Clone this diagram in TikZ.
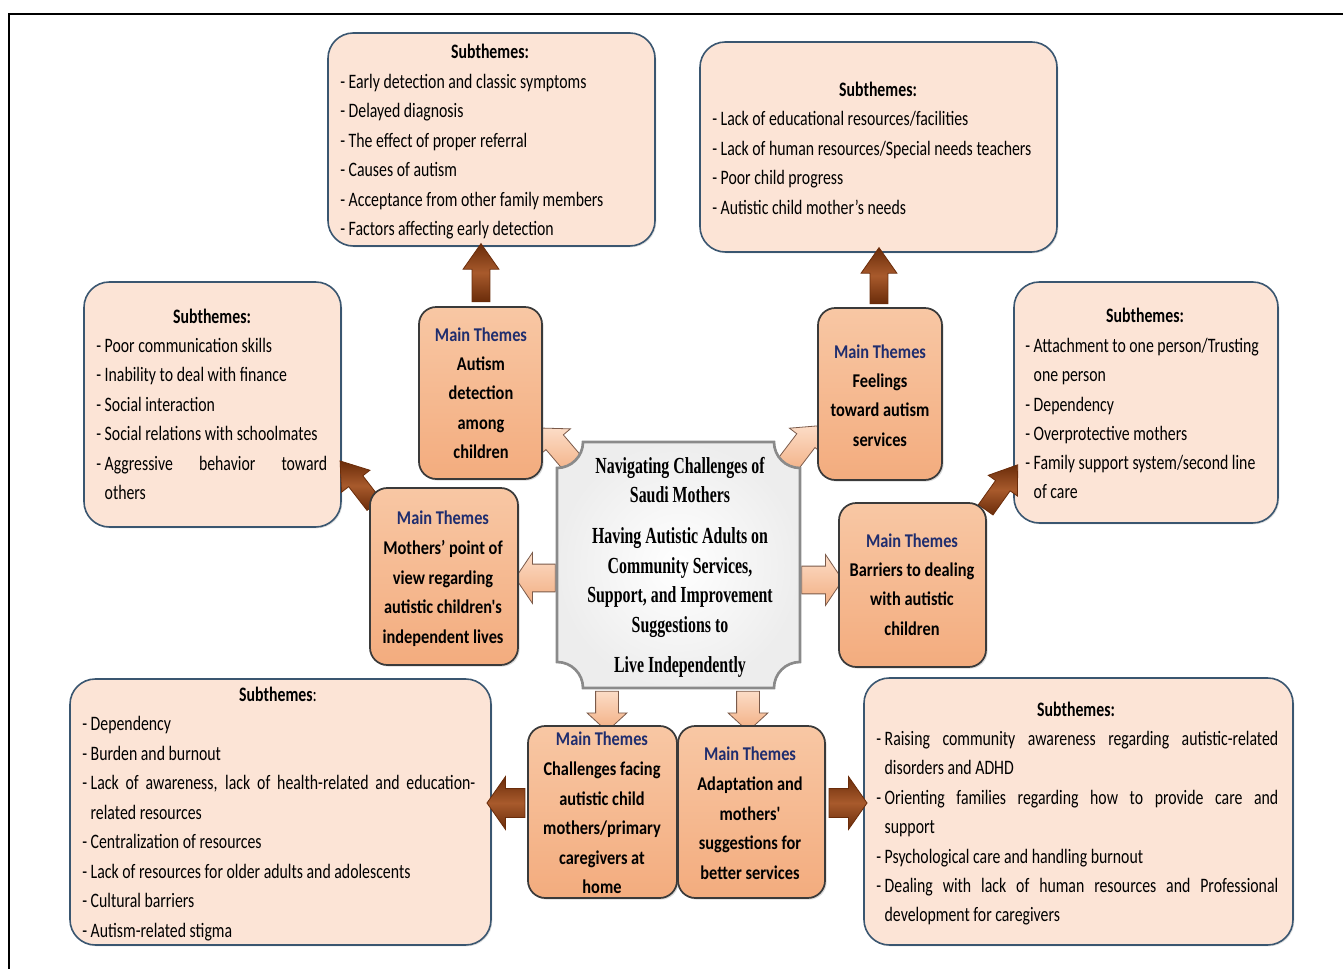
\documentclass[tikz,border=0pt]{standalone}
\usepackage{fontspec}
\usetikzlibrary{shapes.arrows,fit,shadows}
\newfontfamily\stfont[FakeStretch=0.77]{Carlito}
\newfontfamily\mtfont[FakeStretch=0.84]{Carlito}
\newfontfamily\ctfont[FakeStretch=0.69]{Liberation Serif}
\definecolor{subfill}{HTML}{FCE4D6}
\definecolor{subline}{HTML}{3A5670}
\definecolor{maintop}{HTML}{F8C7A4}
\definecolor{mainbot}{HTML}{F3AC7E}
\definecolor{mainline}{HTML}{3A3A3A}
\definecolor{navy}{HTML}{1F2D6E}
\definecolor{brownd}{HTML}{6A2C0A}
\definecolor{brownl}{HTML}{A85A2C}
\definecolor{peachl}{HTML}{FCDCC6}
\definecolor{peachd}{HTML}{F2AE82}
\definecolor{arrline}{HTML}{7A5A4A}
\definecolor{plaqueline}{HTML}{8A8A8A}
\begin{document}
\begin{tikzpicture}[x=0.75pt,y=-0.75pt,
  subbox/.style={draw=subline,line width=1.2pt,fill=subfill,rounded corners=19pt,inner sep=0pt,
    drop shadow={opacity=0.25,shadow xshift=1pt,shadow yshift=-1pt}},
  mainbox/.style={draw=mainline,line width=1.3pt,top color=maintop,bottom color=mainbot,rounded corners=13pt,inner sep=0pt,
    drop shadow={opacity=0.3,shadow xshift=1.2pt,shadow yshift=-1.2pt}},
  stxt/.style={font={\stfont\fontsize{15.4pt}{22pt}\selectfont},inner sep=0pt,anchor=base west},
  sthead/.style={font={\stfont\bfseries\fontsize{15.4pt}{22pt}\selectfont},inner sep=0pt,anchor=base},
  mttxt/.style={font={\mtfont\bfseries\fontsize{14.6pt}{22pt}\selectfont},inner sep=0pt,anchor=base},
  mthead/.style={mttxt,text=navy},
  cttxt/.style={font={\ctfont\bfseries\fontsize{17.25pt}{22pt}\selectfont},inner sep=0pt,anchor=base},
  barrow/.style={single arrow,draw=brownd,line width=0.6pt,shading=axis,top color=brownd,bottom color=brownd,middle color=brownl,
    inner xsep=0pt,single arrow head indent=0pt},
  barrowS/.style={barrow,inner ysep=6.4pt,single arrow head extend=6.75pt,single arrow tip angle=70},
  barrowL/.style={barrow,inner ysep=10.5pt,single arrow head extend=9pt,single arrow tip angle=110},
  larrow/.style={single arrow,draw=arrline,line width=0.6pt,top color=peachl,bottom color=peachd,
    inner xsep=0pt,single arrow head indent=0pt},
  larrowD/.style={larrow,inner ysep=8.25pt,single arrow head extend=6.9pt,single arrow tip angle=96},
  larrowH/.style={larrow,inner ysep=10.1pt,single arrow head extend=8.6pt,single arrow tip angle=112},
  larrowV/.style={larrow,inner ysep=8.25pt,single arrow head extend=6.4pt,single arrow tip angle=95}
]
\useasboundingbox (0,0) rectangle (1343,969);
\draw[line width=1.6pt] (1343,14) -- (9,14) -- (9,969);

% subtheme boxes
\node[subbox,fit={(328,33)(655,246)}] (s1) {};
\node[subbox,fit={(700,42)(1057,252)}] (s2) {};
\node[subbox,fit={(84,282)(341,527)}] (s3) {};
\node[subbox,fit={(1014,282)(1278,523)}] (s4) {};
\node[subbox,fit={(70,679)(491,945)}] (s5) {};
\node[subbox,fit={(864,678)(1293,945)}] (s6) {};

% arrows from main themes to subthemes
\node[barrowS,minimum height=43.5pt,rotate=90] (aA) at (481,279) {};
\node[barrowS,minimum height=42pt,rotate=90] (aB) at (879,282) {};
\node[barrowS,minimum height=41.7pt,rotate=127.7] (aC) at (361,488) {};
\node[barrowS,minimum height=41.4pt,rotate=54.6] (aD) at (998,492.5) {};
\node[barrowL,minimum height=28.5pt,rotate=180] (aE) at (511,803) {};
\node[barrowL,minimum height=28.5pt,rotate=0] (aF) at (843,803) {};

% arrows from centre to main themes
\node[larrowD,minimum height=39.4pt,rotate=130.4] (lA) at (563,452) {};
\node[larrowD,minimum height=39.6pt,rotate=52.7] (lB) at (798,451) {};
\node[larrowH,minimum height=30pt,rotate=180] (lC) at (540,578) {};
\node[larrowH,minimum height=30.75pt,rotate=0] (lD) at (817.5,580) {};
\node[larrowV,minimum height=30pt,rotate=-90] (lE) at (607,706) {};
\node[larrowV,minimum height=30pt,rotate=-90] (lF) at (748,706) {};

% main theme boxes
\node[mainbox,fit={(419,307)(542,479)}] (mA) {};
\node[mainbox,fit={(818,308)(942,480)}] (mB) {};
\node[mainbox,fit={(370,488)(518,665)}] (mC) {};
\node[mainbox,fit={(839,503)(986,667)}] (mD) {};
\node[mainbox,fit={(528,726)(677,898)}] (mE) {};
\node[mainbox,fit={(678,726)(825,898)}] (mF) {};

% centre plaque
\path[draw=plaqueline,line width=2pt,inner color=white,outer color=black!7]
  (583,442) -- (774,442) .. controls (774,456.4) and (785.6,468) .. (800,468)
  -- (800,662) .. controls (785.6,662) and (774,673.6) .. (774,688)
  -- (583,688) .. controls (583,673.6) and (571.4,662) .. (557,662)
  -- (557,468) .. controls (571.4,468) and (583,456.4) .. (583,442) -- cycle;
\node[fit={(557,442)(800,688)},inner sep=0pt] (ctr) {};

% centre text
\foreach \t [count=\i from 0] in {{Navigating Challenges of},{Saudi Mothers}}
  \node[cttxt] (ct-a\i) at (680,473.5+29*\i) {\t};
\foreach \t [count=\i from 0] in {{Having Autistic Adults on},{Community Services,},{Support, and Improvement},{Suggestions to}}
  \node[cttxt] (ct-b\i) at (680,543.5+29.7*\i) {\t};
\node[cttxt] (ct-c) at (680,672.5) {Live Independently};

% main theme texts
\node[mthead] (tA) at (481,341.5) {Main Themes};
\foreach \t [count=\i from 0] in {Autism,detection,among,children}
  \node[mttxt] (tA\i) at (481,370.5+29.4*\i) {\t};
\node[mthead] (tB) at (880,358.5) {Main Themes};
\foreach \t [count=\i from 0] in {Feelings,{toward autism},services}
  \node[mttxt] (tB\i) at (880,387.5+29.5*\i) {\t};
\node[mthead] (tC) at (443,524.5) {Main Themes};
\foreach \t [count=\i from 0] in {{Mothers’ point of},{view regarding},{autistic children's},{independent lives}}
  \node[mttxt] (tC\i) at (443,554.5+29.6*\i) {\t};
\node[mthead] (tD) at (912,547.5) {Main Themes};
\foreach \t [count=\i from 0] in {{Barriers to dealing},{with autistic},children}
  \node[mttxt] (tD\i) at (912,576.5+29.5*\i) {\t};
\node[mthead] (tE) at (602,745.5) {Main Themes};
\foreach \t [count=\i from 0] in {{Challenges facing},{autistic child},{mothers/primary},{caregivers at},home}
  \node[mttxt] (tE\i) at (602,775.5+29.6*\i) {\t};
\node[mthead] (tF) at (750,760.5) {Main Themes};
\foreach \t [count=\i from 0] in {{Adaptation and},{mothers'},{suggestions for},{better services}}
  \node[mttxt] (tF\i) at (750,790.5+29.5*\i) {\t};

% subtheme texts
\node[sthead] (h1) at (490,58.5) {Subthemes:};
\foreach \t [count=\i from 0] in {{- Early detection and classic symptoms},{- Delayed diagnosis},{- The effect of proper referral},{- Causes of autism},{- Acceptance from other family members},{- Factors affecting early detection}}
  \node[stxt] (s1-\i) at (340,88.5+29.5*\i) {\t};

\node[sthead] (h2) at (878,96.5) {Subthemes:};
\foreach \t [count=\i from 0] in {{- Lack of educational resources/facilities},{- Lack of human resources/Special needs teachers},{- Poor child progress},{- Autistic child mother’s needs}}
  \node[stxt] (s2-\i) at (712,125.5+29.6*\i) {\t};

\node[sthead] (h3) at (212,323.5) {Subthemes:};
\foreach \t [count=\i from 0] in {{- Poor communication skills},{- Inability to deal with finance},{- Social interaction},{- Social relations with schoolmates},{\makebox[173.25pt][s]{\mbox{- }Aggressive behavior toward}},{\hphantom{- }others}}
  \node[stxt] (s3-\i) at (96,352.5+29.4*\i) {\t};

\node[sthead] (h4) at (1145,322.5) {Subthemes:};
\foreach \t [count=\i from 0] in {{- Attachment to one person/Trusting},{\hphantom{- }one person},{- Dependency},{- Overprotective mothers},{- Family support system/second line},{\hphantom{- }of care}}
  \node[stxt] (s4-\i) at (1025,352.5+29.3*\i) {\t};

\node[sthead] (h5) at (278,701.5) {Subthemes\mdseries:};
\foreach \t [count=\i from 0] in {{- Dependency},{- Burden and burnout},{\makebox[294.75pt][s]{\mbox{- }Lack of awareness, lack of health-related and education-}},{\hphantom{- }related resources},{- Centralization of resources},{- Lack of resources for older adults and adolescents},{- Cultural barriers},{- Autism-related stigma}}
  \node[stxt] (s5-\i) at (82,730.5+29.5*\i) {\t};

\node[sthead] (h6) at (1076,716.5) {Subthemes:};
\foreach \t [count=\i from 0] in {{\makebox[301.5pt][s]{\mbox{- }Raising community awareness regarding autistic-related}},{\hphantom{- }disorders and ADHD},{\makebox[301.5pt][s]{\mbox{- }Orienting families regarding how to provide care and}},{\hphantom{- }support},{- Psychological care and handling burnout},{\makebox[301.5pt][s]{\mbox{- }Dealing with lack of human resources and Professional}},{\hphantom{- }development for caregivers}}
  \node[stxt] (s6-\i) at (876,745.5+29.4*\i) {\t};
\end{tikzpicture}
\end{document}
